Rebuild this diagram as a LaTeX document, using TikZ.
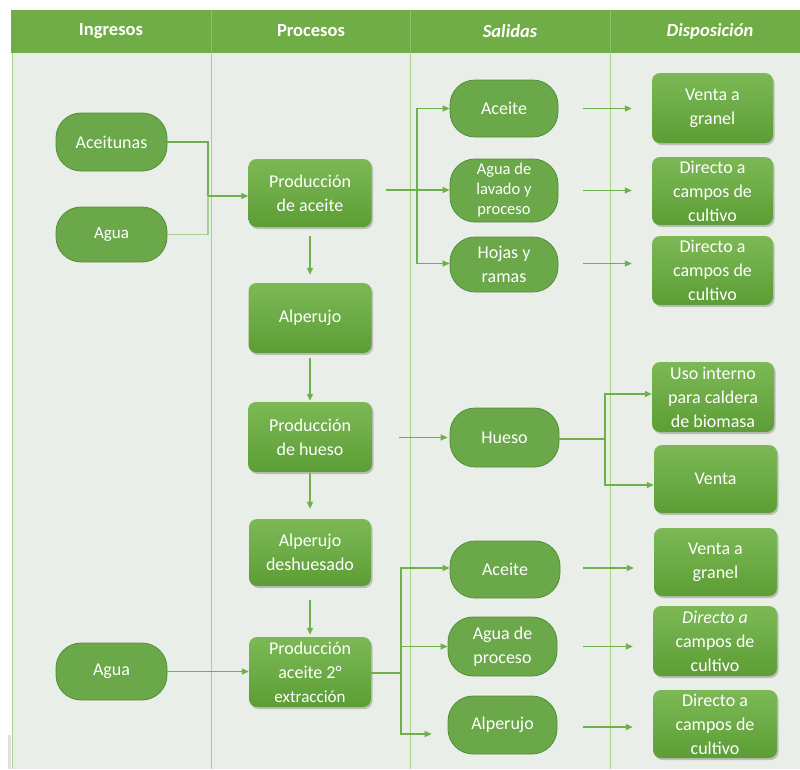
\documentclass[tikz,border=0pt]{standalone}
\usepackage{fontspec}
\setmainfont{Carlito}
\usetikzlibrary{arrows.meta,shadows,calc}

\definecolor{hdrgreen}{HTML}{70AD47}
\definecolor{hdrline}{HTML}{8CC168}
\definecolor{lanebg}{HTML}{E9EEE8}
\definecolor{laneline}{HTML}{A6D18A}
\definecolor{iofill}{HTML}{6AA84A}
\definecolor{iodraw}{HTML}{548F36}
\definecolor{boxtop}{HTML}{7CB955}
\definecolor{boxbot}{HTML}{5C9D35}
\definecolor{flowgreen}{HTML}{6FB04A}

\tikzset{
  nodetext/.style={text=white, align=center, font=\fontsize{18}{24}\selectfont, inner sep=0pt},
  iobox/.style={nodetext, rectangle, rounded corners=25pt, fill=iofill, draw=iodraw, line width=0.8pt},
  procbox/.style={nodetext, rectangle, rounded corners=8pt, top color=boxtop, bottom color=boxbot,
    drop shadow={shadow xshift=1.5pt, shadow yshift=-2pt, opacity=0.35, fill=black!60}},
  lane/.style={draw=laneline, line width=1pt},
  flow/.style={draw=flowgreen, line width=1.2pt, -{Triangle[length=7pt,width=6pt]}},
  link/.style={draw=flowgreen, line width=1.2pt},
  hdrtext/.style={text=white, font=\fontsize{18.5}{20}\selectfont\bfseries}
}

\begin{document}
\begin{tikzpicture}[x=1pt,y=-1pt]
\useasboundingbox (0,0) rectangle (800,769);
\fill[white] (0,0) rectangle (800,769);

% lanes and header
\fill[lanebg] (12,53) rectangle (800,769);
\fill[black!12] (8,735) rectangle (11,769);
\fill[hdrgreen] (11,10) rectangle (800,53);
\draw[hdrline, line width=0.8pt] (211,10) -- (211,53) (410,10) -- (410,53) (610,10) -- (610,53);
\draw[lane] (12,53) -- (12,769);
\draw[lane] (211,53) -- (211,769);
\draw[lane] (410,53) -- (410,769);
\draw[lane] (610,53) -- (610,769);

\node[hdrtext] (h1) at (111,31) {Ingresos};
\node[hdrtext] (h2) at (311,31) {Procesos};
\node[hdrtext] (h3) at (510,31) {\itshape Salidas};
\node[hdrtext] (h4) at (710,31) {\itshape Disposición};

% Ingresos
\node[iobox, minimum width=111pt, minimum height=58pt] (ace_in) at (111.5,142) {Aceitunas};
\node[iobox, minimum width=111pt, minimum height=55pt, font=\fontsize{17}{20}\selectfont] (agua1) at (111.5,234.5) {Agua};
\node[iobox, minimum width=111pt, minimum height=57pt] (agua2) at (111.5,671.5) {Agua};

% Procesos
\node[procbox, minimum width=123pt, minimum height=68pt] (p_aceite) at (310,193) {Producción\\de aceite};
\node[procbox, minimum width=123pt, minimum height=70pt] (alperujo) at (310,318) {Alperujo};
\node[procbox, minimum width=124pt, minimum height=70pt] (p_hueso) at (310,437) {Producción\\de hueso};
\node[procbox, minimum width=122pt, minimum height=67pt] (alp_desh) at (310,552.5) {Alperujo\\deshuesado};
\node[procbox, minimum width=122pt, minimum height=70pt] (p_dos) at (310,672) {Producción\\aceite 2°\\{\fontsize{17}{20}\selectfont extracción}};

% Salidas
\node[iobox, minimum width=108pt, minimum height=57pt] (s_ace1) at (504,108.5) {Aceite};
\node[iobox, minimum width=108pt, minimum height=63pt, font=\fontsize{16.5}{20}\selectfont] (s_agua) at (504,190.5) {Agua de\\lavado y\\proceso};
\node[iobox, minimum width=108pt, minimum height=55pt] (s_hojas) at (504,264.5) {Hojas y\\ramas};
\node[iobox, minimum width=109pt, minimum height=59pt] (s_hueso) at (504.5,437.5) {Hueso};
\node[iobox, minimum width=110pt, minimum height=57pt] (s_ace2) at (505,569.5) {Aceite};
\node[iobox, minimum width=109pt, minimum height=59pt] (s_aguap) at (502.5,646.5) {Agua de\\proceso};
\node[iobox, minimum width=109pt, minimum height=58pt] (s_alp) at (502.5,725) {Alperujo};

% Disposición
\node[procbox, minimum width=121pt, minimum height=70pt] (d_venta1) at (712.5,108) {Venta a\\granel};
\node[procbox, minimum width=121pt, minimum height=68pt] (d_dir1) at (712.5,191) {Directo a\\campos de\\cultivo};
\node[procbox, minimum width=121pt, minimum height=69pt] (d_dir2) at (712.5,270.5) {Directo a\\campos de\\cultivo};
\node[procbox, minimum width=122pt, minimum height=70pt] (d_uso) at (713,397) {Uso interno\\para caldera\\de biomasa};
\node[procbox, minimum width=123pt, minimum height=68pt] (d_venta) at (715.5,479) {Venta};
\node[procbox, minimum width=123pt, minimum height=68pt] (d_venta2) at (715.5,562) {Venta a\\granel};
\node[procbox, minimum width=124pt, minimum height=70pt] (d_dir3) at (715,641) {\textit{Directo a}\\campos de\\cultivo};
\node[procbox, minimum width=124pt, minimum height=68pt] (d_dir4) at (715,724) {Directo a\\campos de\\cultivo};

% junction points
\coordinate (j_in) at (208,196);
\coordinate (j_ace) at (417,190);
\coordinate (j_hue) at (605,439);
\coordinate (j_dos) at (401,673);

% inputs to oil production
\draw[link] (ace_in.east) -| (j_in);
\draw[link, draw=flowgreen!60] (agua1.east) -| (j_in);
\draw[flow] (j_in) -- (j_in -| p_aceite.west);

% oil production outputs
\draw[flow, shorten <=14pt] (p_aceite.east |- j_ace) -- (j_ace -| s_agua.west);
\draw[flow] (j_ace) |- (s_ace1.west);
\draw[flow] (j_ace) |- ([yshift=1pt]s_hojas.west);

% vertical process chain
\draw[flow, shorten <=9pt, shorten >=8pt] (p_aceite.south) -- (alperujo.north);
\draw[flow, shorten <=5pt, shorten >=1pt] (alperujo.south) -- (p_hueso.north);
\draw[flow, shorten <=1pt, shorten >=10pt] (p_hueso.south) -- (alp_desh.north);
\draw[flow, shorten <=14pt, shorten >=2pt] (alp_desh.south) -- (p_dos.north);

% stone production
\draw[flow, shorten <=27pt, shorten >=2pt] (p_hueso.east |- s_hueso.west) -- (s_hueso.west);
\draw[link] (s_hueso.east |- j_hue) -- (j_hue);
\draw[flow] (j_hue) |- ([yshift=3pt]d_uso.west);
\draw[flow] (j_hue) |- ([yshift=-6pt]d_venta.west);

% second extraction
\draw[flow] (agua2.east) -- (agua2.east -| p_dos.west);
\draw[link] (p_dos.east |- j_dos) -- (j_dos);
\draw[flow] (j_dos) |- ([yshift=1.5pt]s_ace2.west);
\draw[flow] (j_dos) |- (s_aguap.west);
\draw[flow, shorten >=16pt] (j_dos) |- ([yshift=-9pt]s_alp.west);

% outputs to disposition
\draw[flow, shorten <=25pt, shorten >=20pt] (s_ace1.east) -- (s_ace1.east -| d_venta1.west);
\draw[flow, shorten <=25pt, shorten >=20pt] (s_agua.east) -- (s_agua.east -| d_dir1.west);
\draw[flow, shorten <=25pt, shorten >=20pt] ([yshift=1pt]s_hojas.east) -- ([yshift=1pt]s_hojas.east -| d_dir2.west);
\draw[flow, shorten <=23pt, shorten >=20pt] ([yshift=1.5pt]s_ace2.east) -- ([yshift=1.5pt]s_ace2.east -| d_venta2.west);
\draw[flow, shorten <=26pt, shorten >=20pt] (s_aguap.east) -- (s_aguap.east -| d_dir3.west);
\draw[flow, shorten <=26pt, shorten >=20pt] ([yshift=-2pt]s_alp.east) -- ([yshift=-2pt]s_alp.east -| d_dir4.west);
\end{tikzpicture}
\end{document}
